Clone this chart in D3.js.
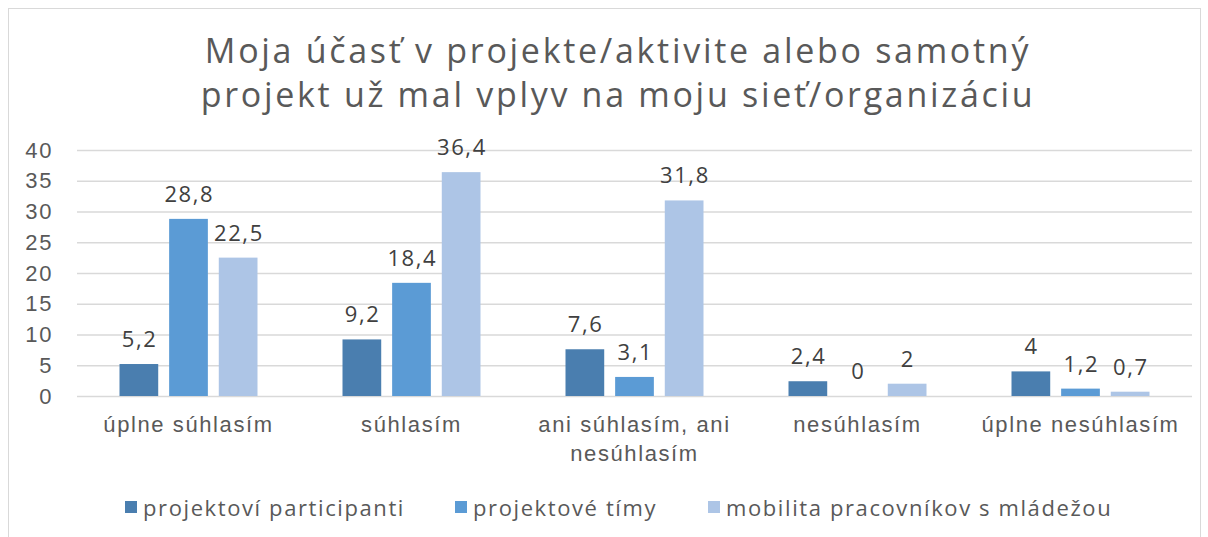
<!DOCTYPE html>
<html>
<head>
<meta charset="utf-8">
<script src="https://cdn.jsdelivr.net/npm/d3@7"></script>
<style>
  body { margin: 0; background: #fff; }
  svg { font-family: "Open Sans", sans-serif; }
  .lbl { font-size: 22px; letter-spacing: 1.6px; }
</style>
</head>
<body>
<div id="chart"></div>
<script>
var titleLines = ["Moja účasť v projekte/aktivite alebo samotný", "projekt už mal vplyv na moju sieť/organizáciu"];
var categories = ["úplne súhlasím", "súhlasím", "ani súhlasím, ani nesúhlasím", "nesúhlasím", "úplne nesúhlasím"];
var seriesNames = ["projektoví participanti", "projektové tímy", "mobilita pracovníkov s mládežou"];
var participanti = [5.2, 9.2, 7.6, 2.4, 4];
var timy = [28.8, 18.4, 3.1, 0, 1.2];
var mobilita = [22.5, 36.4, 31.8, 2, 0.7];
var yTicks = [0, 5, 10, 15, 20, 25, 30, 35, 40];
var colors = ["#4a7eaf", "#5b9bd5", "#adc5e6"];

var W = 1208, H = 537;
var margin = { top: 150, right: 16, bottom: 141, left: 77 },
    width = W - margin.left - margin.right,
    height = H - margin.top - margin.bottom;

var series = [participanti, timy, mobilita];

var svg = d3.select("#chart").append("svg")
    .attr("width", W)
    .attr("height", H);

// frame
svg.append("rect")
    .attr("x", 8.5).attr("y", 8.5)
    .attr("width", 1192).attr("height", 540)
    .attr("fill", "none")
    .attr("stroke", "#d9d9d9")
    .attr("stroke-width", 1);

svg.append("text")
    .attr("text-anchor", "middle")
    .attr("fill", "#595959")
    .style("font-size", "34px")
    .style("letter-spacing", "2.7px")
    .selectAll("tspan")
    .data(titleLines)
    .enter().append("tspan")
    .attr("x", 618)
    .attr("y", function(d, i) { return 63 + i * 44; })
    .text(function(d) { return d; });

var g = svg.append("g")
    .attr("transform", "translate(" + margin.left + "," + margin.top + ")");

var x0 = d3.scaleBand()
    .domain(categories)
    .range([0, width]);

var x1 = d3.scaleBand()
    .domain(d3.range(series.length))
    .range([0, 138])
    .paddingInner(0.22);

var y = d3.scaleLinear()
    .domain([0, 40])
    .range([height, 0]);

// grid
g.append("g")
    .attr("class", "grid")
    .call(d3.axisLeft(y).tickValues(yTicks).tickSize(-width).tickFormat(""))
    .call(function(s) {
      s.select(".domain").remove();
      s.selectAll("line").attr("stroke", "#d9d9d9").attr("stroke-width", 1.5);
    });

// y axis labels
g.append("g")
    .call(d3.axisLeft(y).tickValues(yTicks).tickSize(0).tickPadding(24))
    .call(function(s) {
      s.select(".domain").remove();
      s.selectAll("text").attr("class", "lbl").attr("fill", "#595959").attr("font-family", null).attr("font-size", null);
    });

var groups = g.selectAll(".grp")
    .data(categories)
    .enter().append("g")
    .attr("class", "grp")
    .attr("transform", function(d) { return "translate(" + (x0(d) + (x0.bandwidth() - 138) / 2) + ",0)"; });

groups.selectAll("rect")
    .data(function(d, ci) { return series.map(function(s, si) { return { si: si, v: s[ci] }; }); })
    .enter().append("rect")
    .attr("x", function(d) { return x1(d.si); })
    .attr("y", function(d) { return y(d.v); })
    .attr("width", x1.bandwidth())
    .attr("height", function(d) { return height - y(d.v); })
    .attr("fill", function(d) { return colors[d.si]; });

groups.selectAll("text.val")
    .data(function(d, ci) { return series.map(function(s, si) { return { si: si, v: s[ci] }; }); })
    .enter().append("text")
    .attr("class", "val lbl")
    .attr("x", function(d) { return x1(d.si) + x1.bandwidth() / 2 + 0.8; })
    .attr("y", function(d) { return y(d.v) - 17; })
    .attr("text-anchor", "middle")
    .attr("fill", "#404040")
    .text(function(d) { return String(d.v).replace(".", ","); });

// category labels, wrapped to band width
var xAxis = g.append("g")
    .attr("transform", "translate(0," + height + ")")
    .call(d3.axisBottom(x0).tickSize(0).tickPadding(0));
xAxis.select(".domain").remove();
xAxis.selectAll("text")
    .attr("class", "lbl")
    .attr("font-family", null).attr("font-size", null)
    .attr("fill", "#595959")
    .attr("dy", null)
    .attr("y", 36)
    .each(function(d) {
      var t = d3.select(this), words = d.split(" "), line = [], lineNo = 0;
      t.text(null);
      var ts = t.append("tspan").attr("x", 0).attr("y", 36);
      words.forEach(function(w) {
        line.push(w);
        ts.text(line.join(" "));
        if (ts.node().getComputedTextLength() > x0.bandwidth() - 8 && line.length > 1) {
          line.pop();
          ts.text(line.join(" "));
          line = [w];
          lineNo++;
          ts = t.append("tspan").attr("x", 0).attr("y", 36 + lineNo * 29).text(w);
        }
      });
    });

// legend
var legendX = [125, 455, 708];
var legend = svg.append("g")
    .selectAll("g")
    .data(seriesNames)
    .enter().append("g")
    .attr("transform", function(d, i) { return "translate(" + legendX[i] + ",501)"; });
legend.append("rect")
    .attr("width", 12).attr("height", 12)
    .attr("fill", function(d, i) { return colors[i]; });
legend.append("text")
    .attr("class", "lbl")
    .attr("x", 18).attr("y", 15)
    .attr("fill", "#595959")
    .text(function(d) { return d; });
</script>
</body>
</html>
